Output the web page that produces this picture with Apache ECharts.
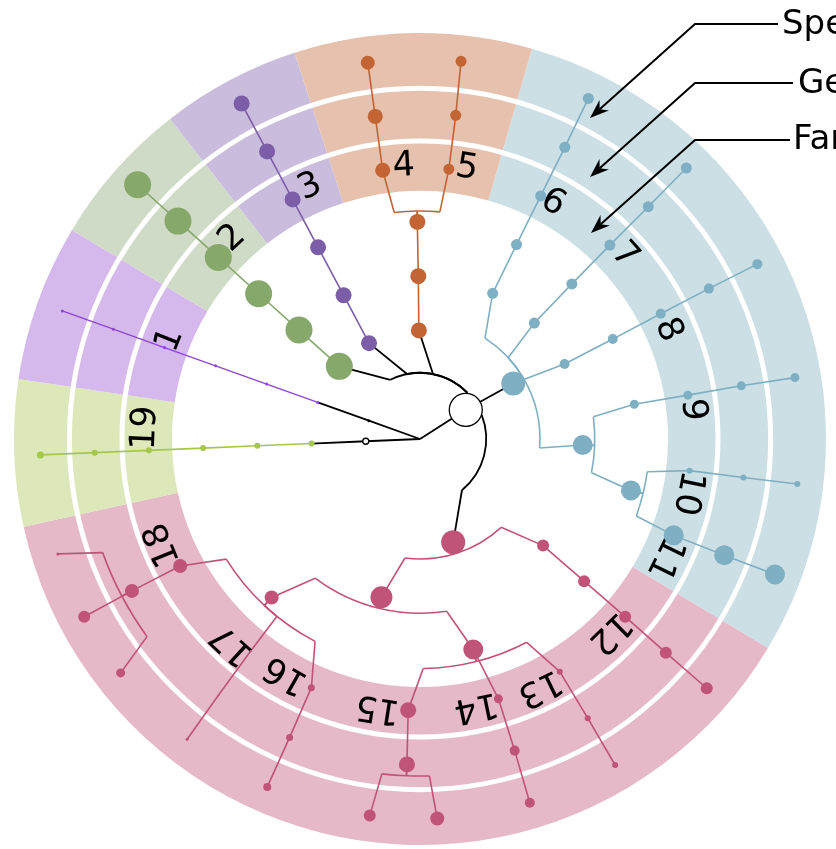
<!DOCTYPE html>
<html>
<head>
<meta charset="utf-8">
<script src="https://cdn.jsdelivr.net/npm/echarts@6/dist/echarts.min.js"></script>
<style>
  html, body { margin: 0; padding: 0; background: #fff; }
  #chart { width: 836px; height: 849px; }
</style>
</head>
<body>
<div id="chart"></div>
<script>
// clade sectors, angles in degrees clockwise from the top
const sectorFrom = [16, 121, 257.5, 278.5, 301, 322, 342];
const sectorTo = [121, 257.5, 278.5, 301, 322, 342, 376];
const bandColors = ['#cbdfe5', '#e5b9c7', '#dce8ba', '#d5b8ec', '#cfdbc6', '#cabcdc', '#e6c1ad'];
const nodeColors = ['#7eafc2', '#c05378', '#a5c74a', '#8e44d4', '#86a86b', '#7b5ea7', '#c26433'];

// radii are in tree levels (7 = species)
const bandInner = 4.57;
const bandOuter = 7.48;
const ringRadii = [5.49, 6.46];

const familyLabels = ['1', '2', '3', '4', '5', '6', '7', '8', '9', '10', '11', '12', '13', '14', '15', '16', '17', '18', '19'];
const familyAngles = [291.6, 316.9, 336.4, 356.6, 9.8, 29.4, 48.1, 66.3, 83.9, 101.4, 115.9, 135.6, 154.3, 168.2, 188.9, 209.6, 222.4, 247.7, 272.3];
const familyRadius = [4.95, 5.06, 5.06, 5.03, 5.06, 4.99, 5.06, 4.99, 5.05, 5.03, 5.01, 4.99, 5.08, 5.03, 5.01, 4.99, 5.12, 5.12, 5.06];

const rankNames = ['Species', 'Genus', 'Family'];

// nodes: id, level, angle, size, clade (-1 = black)
const nodes = [
  ['c', 0, 0, 0, -1],
  ['root', 1, 57.5, 33, -1],
  ['a1', 1, 289.7, 3, -1], ['a2', 2, 289.7, 3, 3], ['a3', 3, 289.7, 3, 3], ['a4', 4, 289.7, 3, 3],
  ['a5', 5, 289.7, 3, 3], ['a6', 6, 289.7, 3, 3], ['a7', 7, 289.7, 3, 3],
  ['l1', 1, 267.6, 6, -1], ['l2', 2, 267.6, 6, 2], ['l3', 3, 267.6, 6, 2], ['l4', 4, 267.6, 6, 2],
  ['l5', 5, 267.6, 6, 2], ['l6', 6, 267.6, 6, 2], ['l7', 7, 267.6, 7, 2],
  ['g2', 2, 312, 27, 4], ['g3', 3, 312, 27, 4], ['g4', 4, 312, 27, 4],
  ['g5', 5, 312, 27, 4], ['g6', 6, 312, 27, 4], ['g7', 7, 312, 27, 4],
  ['p2', 2, 332, 16, 5], ['p3', 3, 332, 16, 5], ['p4', 4, 332, 16, 5],
  ['p5', 5, 332, 16, 5], ['p6', 6, 332, 16, 5], ['p7', 7, 332, 16, 5],
  ['o2', 2, 359.4, 16, 6], ['o3', 3, 359.4, 16, 6], ['o4', 4, 359.3, 16, 6],
  ['o4_5', 5, 352.1, 15, 6], ['o4_6', 6, 352.1, 15, 6], ['o4_7', 7, 352.1, 14, 6],
  ['o5_5', 5, 6.1, 11, 6], ['o5_6', 6, 6.3, 11, 6], ['o5_7', 7, 6.2, 11, 6],
  ['b2', 2, 59.2, 24, 0],
  ['b6_3', 3, 26.5, 11, 0], ['b6_4', 4, 26.4, 11, 0], ['b6_5', 5, 26.4, 11, 0], ['b6_6', 6, 26.4, 11, 0], ['b6_7', 7, 26.3, 11, 0],
  ['b7_3', 3, 44.6, 11, 0], ['b7_4', 4, 44.4, 11, 0], ['b7_5', 5, 44.4, 11, 0], ['b7_6', 6, 44.5, 11, 0], ['b7_7', 7, 44.5, 11, 0],
  ['b8_3', 3, 62.6, 10, 0], ['b8_4', 4, 62.6, 10, 0], ['b8_5', 5, 62.5, 10, 0], ['b8_6', 6, 62.5, 10, 0], ['b8_7', 7, 62.6, 10, 0],
  ['b3', 3, 92.1, 20, 0],
  ['b9_4', 4, 80.8, 9, 0], ['b9_5', 5, 80.7, 9, 0], ['b9_6', 6, 80.6, 9, 0], ['b9_7', 7, 80.7, 9, 0],
  ['b4', 4, 103.7, 20, 0],
  ['b10_5', 5, 96.7, 6, 0], ['b10_6', 6, 96.8, 6, 0], ['b10_7', 7, 96.8, 6, 0],
  ['b11_5', 5, 110.8, 20, 0], ['b11_6', 6, 110.9, 20, 0], ['b11_7', 7, 110.9, 20, 0],
  ['k2', 2, 162.2, 24, 1],
  ['k12_3', 3, 130.9, 12, 1], ['k12_4', 4, 130.9, 12, 1], ['k12_5', 5, 130.9, 12, 1], ['k12_6', 6, 131, 12, 1], ['k12_7', 7, 131, 12, 1],
  ['k3', 3, 193.7, 22, 1],
  ['k4a', 4, 165.8, 20, 1],
  ['k13_5', 5, 149, 6, 1], ['k13_6', 6, 149, 6, 1], ['k13_7', 7, 149.1, 6, 1],
  ['k14_5', 5, 163.2, 9, 1], ['k14_6', 6, 163.1, 10, 1], ['k14_7', 7, 163.2, 10, 1],
  ['k15_5', 5, 182.5, 16, 1], ['k15_6', 6, 182.3, 16, 1], ['k15_7a', 7, 187.6, 12, 1], ['k15_7b', 7, 177.4, 14, 1],
  ['k4b', 4, 223.1, 14, 1],
  ['k16_5', 5, 203.6, 7, 1], ['k16_6', 6, 203.6, 7, 1], ['k16_7', 7, 203.7, 8, 1],
  ['k17_5', 5, 218.6, 2, 1], ['k17_6', 6, 218.2, 2, 1], ['k17_7', 7, 217.8, 3, 1],
  ['k18_5', 5, 242.1, 14, 1], ['k18_6', 6, 242.2, 14, 1], ['k18_7a', 7, 242.1, 12, 1],
  ['k18_7b', 7, 232, 9, 1], ['k18_7c', 7, 252.4, 3, 1]
];
const hollowNodes = ['root', 'l1'];

// edges: parent, child, [elbow radius, elbow start angle, elbow end angle]
const edges = [
  ['root', 'c'],
  ['c', 'a1'], ['a1', 'a2'], ['a2', 'a3'], ['a3', 'a4'], ['a4', 'a5'], ['a5', 'a6'], ['a6', 'a7'],
  ['c', 'l1'], ['l1', 'l2'], ['l2', 'l3'], ['l3', 'l4'], ['l4', 'l5'], ['l5', 'l6'], ['l6', 'l7'],
  ['root', 'g2', 1.22, 45.2, 333.4], ['g2', 'g3'], ['g3', 'g4'], ['g4', 'g5'], ['g5', 'g6'], ['g6', 'g7'],
  ['root', 'p2', 1.22, 45.2, 348.7], ['p2', 'p3'], ['p3', 'p4'], ['p4', 'p5'], ['p5', 'p6'], ['p6', 'p7'],
  ['root', 'o2', 1.22, 45.2, 11.3], ['o2', 'o3'], ['o3', 'o4'],
  ['o4', 'o4_5', 4.2, 359.3, 353.5], ['o4_5', 'o4_6'], ['o4_6', 'o4_7'],
  ['o4', 'o5_5', 4.2, 359.3, 5.0], ['o5_5', 'o5_6'], ['o5_6', 'o5_7'],
  ['root', 'b2'],
  ['b2', 'b6_3', 2.21, 59.2, 32.8], ['b6_3', 'b6_4'], ['b6_4', 'b6_5'], ['b6_5', 'b6_6'], ['b6_6', 'b6_7'],
  ['b2', 'b7_3', 2.21, 59.2, 47.3], ['b7_3', 'b7_4'], ['b7_4', 'b7_5'], ['b7_5', 'b7_6'], ['b7_6', 'b7_7'],
  ['b2', 'b8_3'], ['b8_3', 'b8_4'], ['b8_4', 'b8_5'], ['b8_5', 'b8_6'], ['b8_6', 'b8_7'],
  ['b2', 'b3', 2.21, 59.2, 94.3],
  ['b3', 'b9_4', 3.22, 92.1, 82.7], ['b9_4', 'b9_5'], ['b9_5', 'b9_6'], ['b9_6', 'b9_7'],
  ['b3', 'b4', 3.22, 92.1, 101.1],
  ['b4', 'b10_5', 4.23, 103.7, 98.2], ['b10_5', 'b10_6'], ['b10_6', 'b10_7'],
  ['b4', 'b11_5', 4.23, 103.7, 109.6], ['b11_5', 'b11_6'], ['b11_6', 'b11_7'],
  ['root', 'k2', 1.22, 68.7, 140.7],
  ['k2', 'k12_3', 2.21, 162.2, 137.4], ['k12_3', 'k12_4'], ['k12_4', 'k12_5'], ['k12_5', 'k12_6'], ['k12_6', 'k12_7'],
  ['k2', 'k3', 2.21, 162.2, 187.2],
  ['k3', 'k4a', 3.21, 193.7, 171.2],
  ['k3', 'k4b', 3.21, 193.7, 217],
  ['k4a', 'k13_5', 4.23, 165.8, 152.3], ['k13_5', 'k13_6'], ['k13_6', 'k13_7'],
  ['k4a', 'k14_5'], ['k14_5', 'k14_6'], ['k14_6', 'k14_7'],
  ['k4a', 'k15_5', 4.23, 165.8, 179.2], ['k15_5', 'k15_6'],
  ['k15_6', 'k15_7a', 6.21, 182.3, 186.5], ['k15_6', 'k15_7b', 6.21, 182.3, 178.4],
  ['k4b', 'k16_5', 4.2, 223.1, 207.4], ['k16_5', 'k16_6'], ['k16_6', 'k16_7'],
  ['k4b', 'k17_5', 4.2, 223.1, 218.9], ['k17_5', 'k17_6'], ['k17_6', 'k17_7'],
  ['k4b', 'k18_5', 4.2, 223.1, 238.2], ['k18_5', 'k18_6'], ['k18_6', 'k18_7a'],
  ['k18_6', 'k18_7b', 6.21, 242.2, 234.1], ['k18_6', 'k18_7c', 6.21, 242.2, 250.3]
];

const nodeById = {};
nodes.forEach(n => { nodeById[n[0]] = n; });

function radiusPx(params, api, r) {
  const p = api.coord([r, 0]);
  return Math.hypot(p[0] - params.coordSys.cx, p[1] - params.coordSys.cy);
}

function angleOf(params, p) {
  return Math.atan2(p[1] - params.coordSys.cy, p[0] - params.coordSys.cx);
}

function turn(a, b) {
  let d = b - a;
  while (d > Math.PI) d -= 2 * Math.PI;
  while (d <= -Math.PI) d += 2 * Math.PI;
  return d;
}

function renderSector(params, api) {
  const i = params.dataIndex;
  const cs = params.coordSys;
  const a = api.coord([bandOuter, sectorFrom[i]]);
  const b = api.coord([bandOuter, sectorTo[i]]);
  const start = angleOf(params, a);
  const d = turn(start, angleOf(params, b));
  return {
    type: 'sector',
    shape: {
      cx: cs.cx, cy: cs.cy,
      r0: radiusPx(params, api, bandInner),
      r: radiusPx(params, api, bandOuter),
      startAngle: start, endAngle: start + d, clockwise: d > 0
    },
    style: { fill: bandColors[i] }
  };
}

function renderRing(params, api) {
  const cs = params.coordSys;
  return {
    type: 'circle',
    shape: { cx: cs.cx, cy: cs.cy, r: radiusPx(params, api, ringRadii[params.dataIndex]) },
    style: { fill: 'none', stroke: '#fff', lineWidth: 5 }
  };
}

function renderEdge(params, api) {
  const e = edges[params.dataIndex];
  const p = nodeById[e[0]];
  const c = nodeById[e[1]];
  const pp = api.coord([p[1], p[2]]);
  const cp = api.coord([c[1], c[2]]);
  const black = c[1] <= 2 || c[4] < 0;
  const style = {
    stroke: black ? '#000' : nodeColors[c[4]],
    lineWidth: black ? 1.8 : (c[4] === 3 ? 1.3 : 1.6),
    fill: 'none'
  };
  if (e.length < 5) {
    return { type: 'polyline', shape: { points: [pp, cp] }, style: style };
  }
  const cs = params.coordSys;
  const s = api.coord([e[2], e[3]]);
  const t = api.coord([e[2], e[4]]);
  const start = angleOf(params, s);
  const d = turn(start, angleOf(params, t));
  return {
    type: 'group',
    children: [
      { type: 'polyline', shape: { points: [pp, s] }, style: style },
      {
        type: 'arc',
        shape: { cx: cs.cx, cy: cs.cy, r: radiusPx(params, api, e[2]), startAngle: start, endAngle: start + d, clockwise: d > 0 },
        style: style
      },
      { type: 'polyline', shape: { points: [t, cp] }, style: style }
    ]
  };
}

function renderLabel(params, api) {
  const i = params.dataIndex;
  const pt = api.coord([familyRadius[i], familyAngles[i]]);
  return {
    type: 'text',
    x: pt[0], y: pt[1],
    rotation: -familyAngles[i] * Math.PI / 180,
    style: {
      text: familyLabels[i],
      fontSize: 35, fontFamily: 'DejaVu Sans', fill: '#000',
      align: 'center', verticalAlign: 'middle'
    }
  };
}

const nodeSeries = [];
for (let k = -1; k < nodeColors.length; k++) {
  const list = nodes.filter(n => n[4] === k && n[3] > 0 && hollowNodes.indexOf(n[0]) < 0);
  nodeSeries.push({
    type: 'scatter',
    coordinateSystem: 'polar',
    symbol: 'circle',
    symbolSize: v => v[2],
    itemStyle: { color: k < 0 ? '#000' : nodeColors[k], opacity: 1 },
    z: 5,
    silent: true,
    data: list.map(n => [n[1], n[2], n[3]])
  });
}
nodeSeries.push({
  type: 'scatter',
  coordinateSystem: 'polar',
  symbol: 'circle',
  symbolSize: v => v[2],
  itemStyle: { color: '#fff', borderColor: '#000', borderWidth: 1.3, opacity: 1 },
  z: 6,
  silent: true,
  data: nodes.filter(n => hollowNodes.indexOf(n[0]) >= 0).map(n => [n[1], n[2], n[3]])
});

// callouts pointing at the three outer rings
function arrow(x0, y, x1, tx, ty) {
  const dx = tx - x1, dy = ty - y;
  const len = Math.hypot(dx, dy);
  const ux = dx / len, uy = dy / len, nx = -uy, ny = ux;
  const L = 19, W = 7, N = 13;
  return [
    { type: 'polyline', shape: { points: [[x0, y], [x1, y], [tx - ux * N, ty - uy * N]] }, style: { stroke: '#000', lineWidth: 2, fill: 'none' }, z: 20 },
    {
      type: 'polygon',
      shape: { points: [[tx, ty], [tx - ux * L + nx * W, ty - uy * L + ny * W], [tx - ux * N, ty - uy * N], [tx - ux * L - nx * W, ty - uy * L - ny * W]] },
      style: { fill: '#000' }, z: 20
    }
  ];
}

const chart = echarts.init(document.getElementById('chart'));
chart.setOption({
  animation: false,
  polar: { center: [420, 439], radius: 406 },
  angleAxis: { type: 'value', min: 0, max: 360, startAngle: 90, clockwise: true, show: false },
  radiusAxis: { type: 'value', min: 0, max: bandOuter, show: false },
  graphic: [].concat(
    arrow(778, 24, 695, 590, 118),
    arrow(793, 83, 695, 590, 177),
    arrow(790, 140, 695, 591, 233),
    [
      { type: 'text', x: 782, y: 25, style: { text: rankNames[0], fontSize: 34, fontFamily: 'DejaVu Sans', fill: '#000', verticalAlign: 'middle' }, z: 20 },
      { type: 'text', x: 798, y: 84, style: { text: rankNames[1], fontSize: 34, fontFamily: 'DejaVu Sans', fill: '#000', verticalAlign: 'middle' }, z: 20 },
      { type: 'text', x: 793, y: 140, style: { text: rankNames[2], fontSize: 34, fontFamily: 'DejaVu Sans', fill: '#000', verticalAlign: 'middle' }, z: 20 }
    ]
  ),
  series: [
    {
      type: 'custom', coordinateSystem: 'polar', z: 1, silent: true,
      renderItem: renderSector,
      data: sectorFrom.map(a => [bandOuter, a])
    },
    {
      type: 'custom', coordinateSystem: 'polar', z: 2, silent: true,
      renderItem: renderRing,
      data: ringRadii.map(r => [r, 0])
    },
    {
      type: 'custom', coordinateSystem: 'polar', z: 3, silent: true,
      renderItem: renderEdge,
      data: edges.map((e, i) => [0, i])
    },
    {
      type: 'custom', coordinateSystem: 'polar', z: 4, silent: true,
      renderItem: renderLabel,
      data: familyLabels.map((t, i) => [familyRadius[i], familyAngles[i]])
    }
  ].concat(nodeSeries)
});
</script>
</body>
</html>
